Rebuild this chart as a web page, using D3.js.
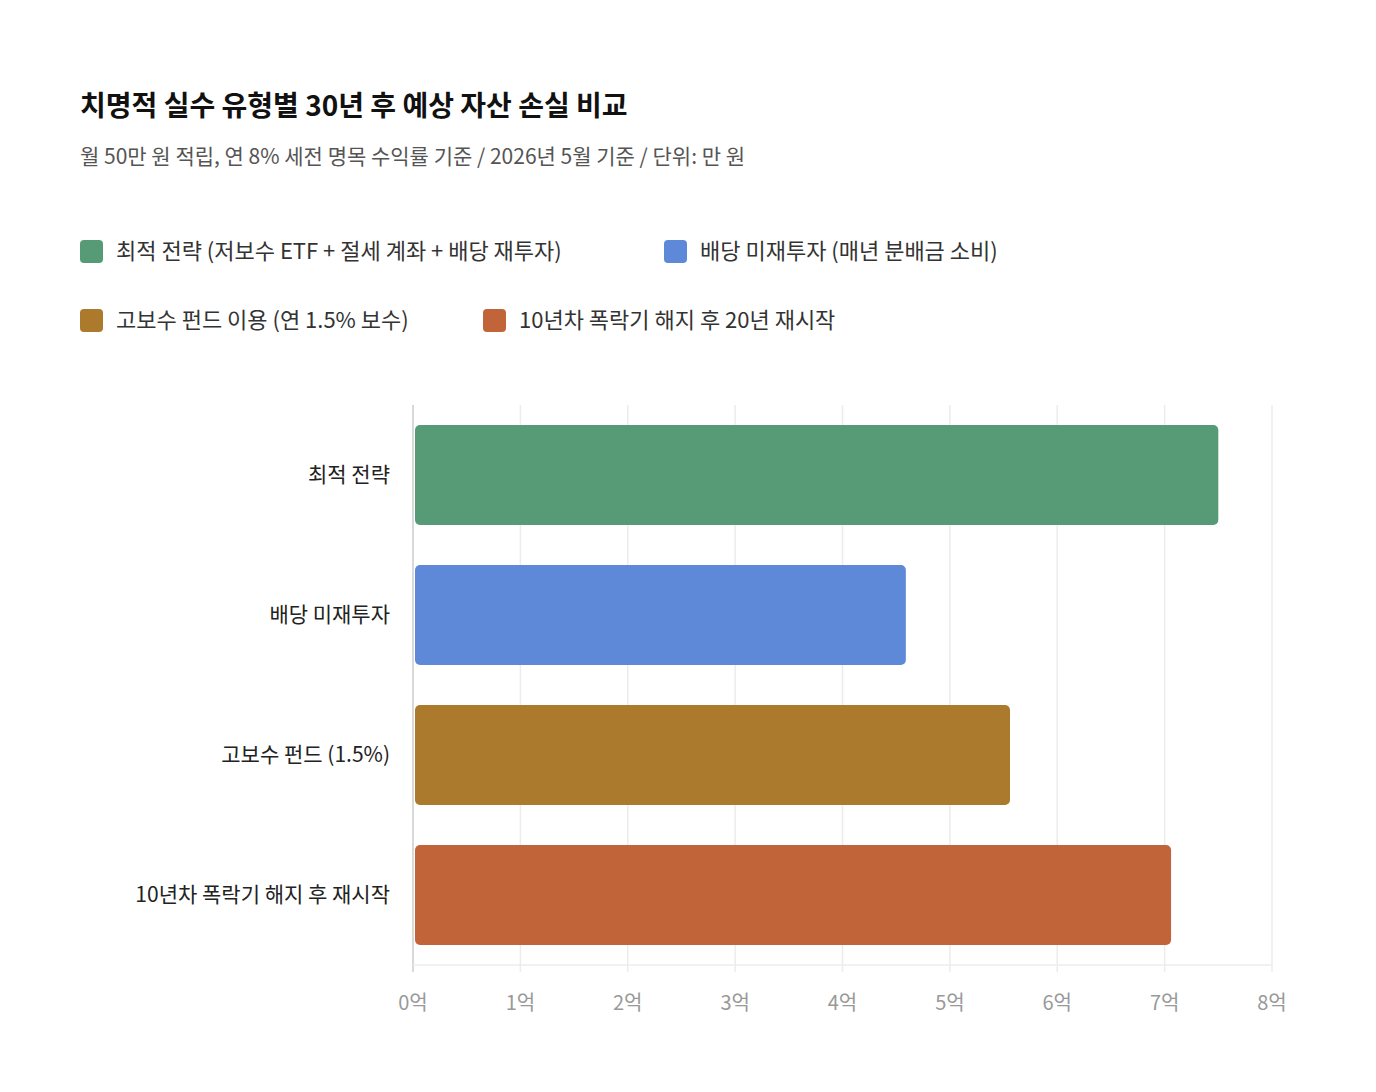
<!DOCTYPE html>
<html><head><meta charset="utf-8">
<script src="https://cdn.jsdelivr.net/npm/d3@7"></script>
<style>
body{margin:0;background:#fff;font-family:"Noto Sans CJK KR","Noto Sans",sans-serif;}
</style></head>
<body><svg id="chart" width="1376" height="1092"></svg>
<script>
var categories = ["최적 전략", "배당 미재투자", "고보수 펀드 (1.5%)", "10년차 폭락기 해지 후 재시작"];
var values = [75000, 45900, 55600, 70600]; // 만 원
var colors = ["#579b76", "#5e89d8", "#ac7a2d", "#c1643a"];
var legendLabels = ["최적 전략 (저보수 ETF + 절세 계좌 + 배당 재투자)", "배당 미재투자 (매년 분배금 소비)",
                    "고보수 펀드 이용 (연 1.5% 보수)", "10년차 폭락기 해지 후 20년 재시작"];
var ticks = [0, 10000, 20000, 30000, 40000, 50000, 60000, 70000, 80000];

var svg = d3.select("#chart");
svg.append("text").attr("x",80).attr("y",116).attr("font-size",28).attr("font-weight",700)
   .attr("fill","#111").text("치명적 실수 유형별 30년 후 예상 자산 손실 비교");
svg.append("text").attr("x",80).attr("y",164).attr("font-size",21).attr("fill","#555")
   .text("월 50만 원 적립, 연 8% 세전 명목 수익률 기준 / 2026년 5월 기준 / 단위: 만 원");

// legend
var legPos = [[80,251],[664,251],[80,320],[483,320]];
legendLabels.forEach(function(l,i){
	var g = svg.append("g").attr("transform","translate("+legPos[i][0]+","+legPos[i][1]+")");
	g.append("rect").attr("x",0).attr("y",-11).attr("width",23).attr("height",23).attr("rx",4).attr("fill",colors[i]);
	g.append("text").attr("x",36).attr("y",8).attr("font-size",22).attr("fill","#333").text(l);
});

var x = d3.scaleLinear().domain([0,80000]).range([413,1272]);
var y = d3.scaleBand().domain(categories).range([405,965]).paddingInner(0.286).paddingOuter(0.143);

svg.append("g").selectAll("line").data(ticks).join("line")
   .attr("x1",function(d){return x(d);}).attr("x2",function(d){return x(d);})
   .attr("y1",405).attr("y2",972)
   .attr("stroke",function(d){return d===0?"#ccc":"#ececec";}).attr("stroke-width",1.5);
svg.append("line").attr("x1",413).attr("x2",1272).attr("y1",965).attr("y2",965).attr("stroke","#ececec").attr("stroke-width",1.5);

svg.append("g").selectAll("text").data(ticks).join("text")
   .attr("x",function(d){return x(d);}).attr("y",1010).attr("text-anchor","middle")
   .attr("font-size",20).attr("fill","#999").text(function(d){return (d/10000)+"억";});

svg.append("g").selectAll("rect").data(values).join("rect")
   .attr("x",x(0)+2).attr("y",function(d,i){return y(categories[i]);})
   .attr("width",function(d){return x(d)-x(0)-2;}).attr("height",y.bandwidth())
   .attr("rx",5).attr("fill",function(d,i){return colors[i];});

svg.append("g").selectAll("text").data(categories).join("text")
   .attr("x",390).attr("y",function(d){return y(d)+y.bandwidth()/2+7;})
   .attr("text-anchor","end").attr("font-size",21).attr("fill","#222").text(function(d){return d;});
</script></body></html>
